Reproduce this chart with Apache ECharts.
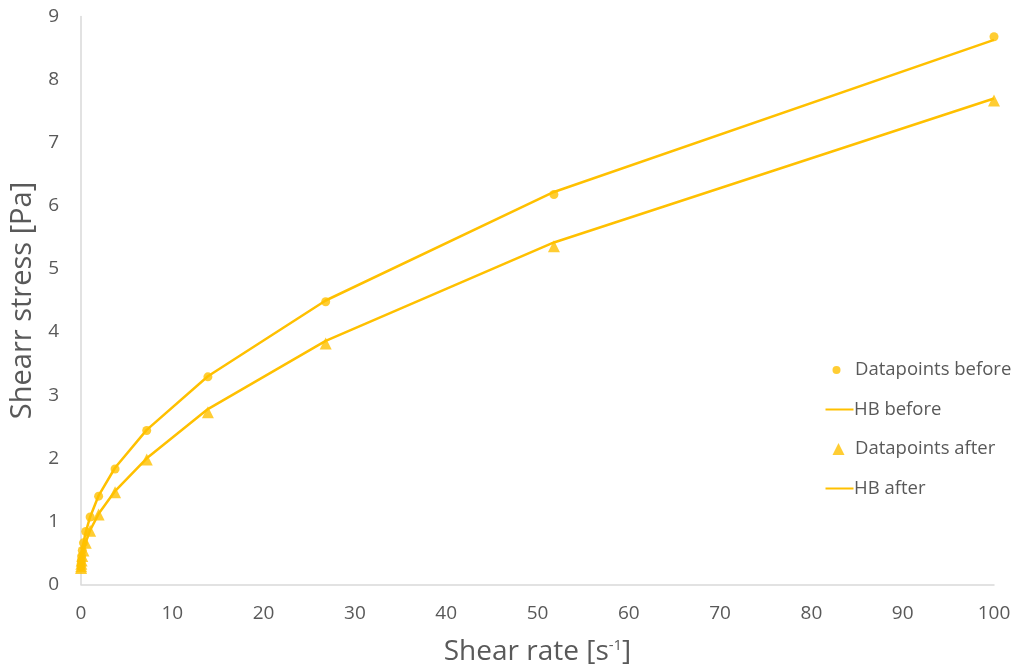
<!DOCTYPE html>
<html>
<head>
<meta charset="utf-8">
<script src="https://cdn.jsdelivr.net/npm/echarts@6/dist/echarts.min.js"></script>
<style>
  html, body { margin: 0; padding: 0; background: #fff; }
  #chart { width: 1018px; height: 671px; }
</style>
</head>
<body>
<div id="chart"></div>
<script>
// Shear rate [1/s] of each measurement step
const shearRate = [0.01, 0.019, 0.037, 0.072, 0.139, 0.268, 0.518, 1.0, 1.93, 3.73, 7.2, 13.9, 26.8, 51.8, 100];
// Measured shear stress [Pa]
const stressBefore = [0.29, 0.33, 0.38, 0.45, 0.54, 0.66, 0.84, 1.07, 1.40, 1.83, 2.44, 3.29, 4.48, 6.18, 8.68];
const stressAfter = [0.26, 0.29, 0.33, 0.38, 0.45, 0.54, 0.66, 0.85, 1.11, 1.46, 1.98, 2.73, 3.82, 5.36, 7.67];
// Herschel-Bulkley fit values [Pa]
const hbBefore = [0.29, 0.33, 0.38, 0.45, 0.54, 0.66, 0.83, 1.07, 1.41, 1.85, 2.45, 3.30, 4.50, 6.22, 8.63];
const hbAfter = [0.26, 0.29, 0.33, 0.38, 0.45, 0.54, 0.67, 0.86, 1.12, 1.48, 2.00, 2.78, 3.86, 5.42, 7.70];
// Axis ticks: [min, max, step]
const xTicks = [0, 100, 10];
const yTicks = [0, 9, 1];
// Legend entries
const legendNames = ['Datapoints before', 'HB before', 'Datapoints after', 'HB after'];

const pair = (xs, ys) => xs.map((x, i) => [x, ys[i]]);
const gold = '#FFC000';
const textColor = '#595959';
const font = '"Open Sans", "Noto Sans", sans-serif';

// one legend block per entry so each icon can have its own size
const legendTextStyle = { fontFamily: font, fontSize: 18.5, color: textColor };
const legendRowY = [370, 409.5, 449, 488.5];
const legendCenterX = 838.5;
const textShift = [4, 0, 2, 0];
function legendBlock(i) {
  const name = legendNames[i];
  const isLine = name.startsWith('HB');
  const w = isLine ? 28 : 12;
  const h = isLine ? 10 : (i === 0 ? 8 : 12);
  const iconLeft = legendCenterX - w / 2;
  return {
    orient: 'vertical',
    left: iconLeft,
    top: legendRowY[i] - 12,
    padding: 0,
    itemWidth: w,
    itemHeight: h,
    itemGap: 0,
    textStyle: Object.assign({}, legendTextStyle, {
      padding: [0, 0, 0, 855 - (iconLeft + w + 5) + textShift[i] - 2],
      lineHeight: 24
    }),
    data: [isLine
      ? { name: name, itemStyle: { opacity: 0 } }
      : { name: name, icon: i === 0 ? 'circle' : 'triangle' }]
  };
}

const chart = echarts.init(document.getElementById('chart'), null, { renderer: 'canvas' });
chart.setOption({
  animation: false,
  backgroundColor: '#ffffff',
  textStyle: { fontFamily: font, color: textColor },
  grid: { left: 81, right: 24, top: 16.5, bottom: 86.5, containLabel: false, outerBoundsMode: 'none' },
  legend: [0, 1, 2, 3].map(legendBlock),
  xAxis: {
    type: 'value',
    min: xTicks[0], max: xTicks[1], interval: xTicks[2],
    name: '{m|Shear rate [s}{s|-1}{m|]}',
    nameLocation: 'middle',
    nameGap: 54,
    nameTextStyle: {
      rich: {
        m: { fontFamily: font, fontSize: 28, color: textColor },
        s: { fontFamily: font, fontSize: 15, color: textColor, verticalAlign: 'top', padding: [0, 0, 12, 0] }
      }
    },
    axisLine: { show: true, lineStyle: { color: '#d9d9d9', width: 1.5 } },
    axisTick: { show: false },
    splitLine: { show: false },
    axisLabel: { fontFamily: font, fontSize: 19, color: textColor, margin: 20 }
  },
  yAxis: {
    type: 'value',
    min: yTicks[0], max: yTicks[1], interval: yTicks[2],
    name: 'Shearr stress [Pa]',
    nameLocation: 'middle',
    nameGap: 38,
    nameTextStyle: { fontFamily: font, fontSize: 29, color: textColor },
    axisLine: { show: true, lineStyle: { color: '#d9d9d9', width: 1.5 } },
    axisTick: { show: false },
    splitLine: { show: false },
    axisLabel: { fontFamily: font, fontSize: 19, color: textColor, margin: 22 }
  },
  series: [
    {
      name: legendNames[0],
      type: 'scatter',
      data: pair(shearRate, stressBefore),
      symbol: 'circle',
      symbolSize: 9,
      itemStyle: { color: gold },
      z: 3
    },
    {
      name: legendNames[1],
      type: 'line',
      data: pair(shearRate, hbBefore),
      showSymbol: false,
      lineStyle: { color: gold, width: 2.5 },
      itemStyle: { color: gold },
      z: 2
    },
    {
      name: legendNames[2],
      type: 'scatter',
      data: pair(shearRate, stressAfter),
      symbol: 'triangle',
      symbolSize: 12,
      itemStyle: { color: gold },
      z: 3
    },
    {
      name: legendNames[3],
      type: 'line',
      data: pair(shearRate, hbAfter),
      showSymbol: false,
      lineStyle: { color: gold, width: 2.5 },
      itemStyle: { color: gold },
      z: 2
    }
  ]
});
</script>
</body>
</html>
